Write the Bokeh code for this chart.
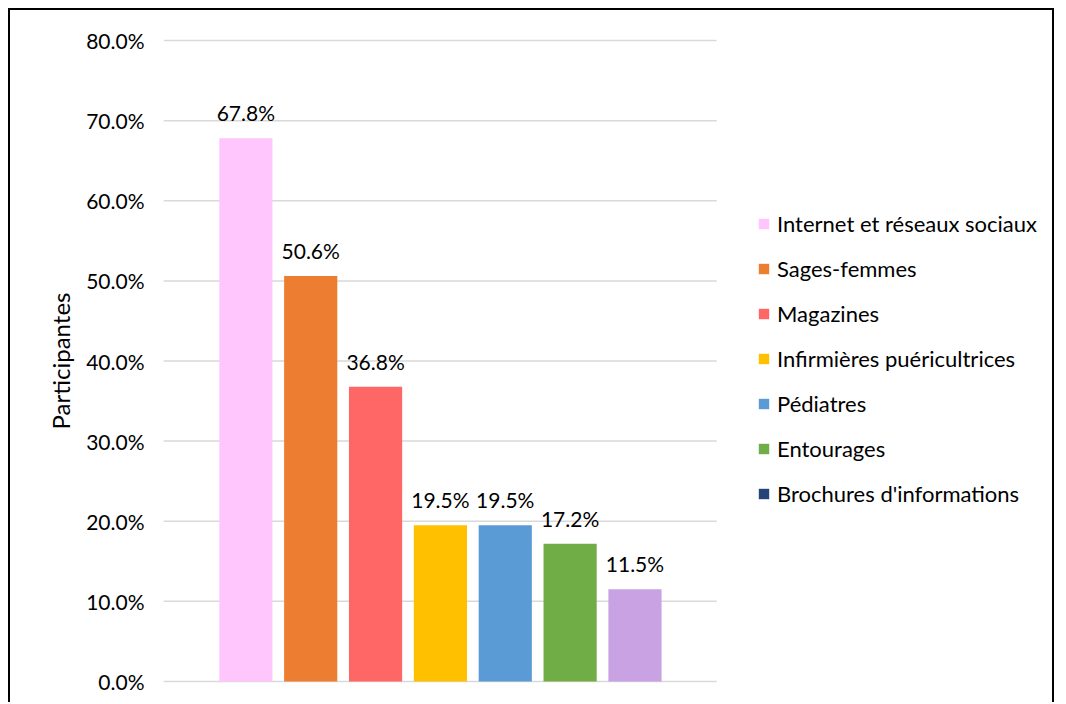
from bokeh.plotting import figure
from bokeh.models import (ColumnDataSource, Legend, LegendItem, FixedTicker,
                          LabelSet, CustomJSTickFormatter)
from bokeh.core.properties import value
from bokeh.embed import file_html
from bokeh.resources import INLINE

categories = ["Internet et réseaux sociaux", "Sages-femmes", "Magazines",
              "Infirmières puéricultrices", "Pédiatres", "Entourages",
              "Brochures d'informations"]
values = [67.8, 50.6, 36.8, 19.5, 19.5, 17.2, 11.5]
bar_colors = ["#FFC5FD", "#ED7D31", "#FF6666", "#FFC000", "#5B9BD5", "#70AD47", "#C8A2E3"]
legend_colors = ["#FFC5FD", "#ED7D31", "#FF6666", "#FFC000", "#5B9BD5", "#70AD47", "#264478"]
y_ticks = [0, 10, 20, 30, 40, 50, 60, 70, 80]

FONT = "Lato"
PLOT_X0, PLOT_X1 = -1.27, 7.26     # extent of the plotting area (gridlines)
X_END = 12.5                        # frame extends right to host the legend

p = figure(width=1046, height=694, output_backend="svg", toolbar_location=None,
           x_range=(PLOT_X0, X_END), y_range=(-0.25, 80.25),
           min_border_left=153, min_border_right=0, min_border_top=28,
           min_border_bottom=21)
p.styles = {"border-style": "solid", "border-color": "black",
            "border-width": "2px 2px 0px 2px",
            "margin-left": "8px", "margin-top": "8px"}
p.outline_line_color = None
p.xaxis.visible = False
p.xgrid.grid_line_color = None
p.ygrid.grid_line_color = None

# horizontal gridlines limited to the plotting area
p.segment(x0=[PLOT_X0] * len(y_ticks), x1=[PLOT_X1] * len(y_ticks),
          y0=y_ticks, y1=y_ticks, line_color="#D9D9D9", line_width=1.5)

yax = p.yaxis[0]
yax.ticker = FixedTicker(ticks=y_ticks)
yax.formatter = CustomJSTickFormatter(code="return tick.toFixed(1) + '%';")
yax.axis_line_color = None
yax.major_tick_line_color = None
yax.minor_tick_line_color = None
yax.major_label_text_font = FONT
yax.major_label_text_font_size = "21px"
yax.major_label_text_color = "#000000"
yax.major_label_standoff = 13
yax.axis_label = "Participantes"
yax.axis_label_text_font = FONT
yax.axis_label_text_font_style = "normal"
yax.axis_label_text_font_size = "24px"
yax.axis_label_text_color = "#000000"
yax.axis_label_standoff = 8

items = []
for i, (cat, v, bc, lc) in enumerate(zip(categories, values, bar_colors, legend_colors)):
    src = ColumnDataSource(dict(x=[i], top=[v], label=[f"{v:.1f}%"]))
    p.vbar(x="x", top="top", width=0.82, bottom=0, source=src,
           fill_color=bc, line_color=None)
    # legend swatch renderer: zero-height bar, only gives the swatch colour
    sw = p.vbar(x=[i], top=[0], bottom=0, width=0.82, fill_color=lc, line_color=None)
    items.append(LegendItem(label=cat, renderers=[sw]))
    lbl = LabelSet(x="x", y="top", text="label", source=src, text_align="center",
                   text_baseline="bottom", y_offset=13, text_font=value(FONT),
                   text_font_size="21px", text_color="#000000")
    p.add_layout(lbl)

legend = Legend(items=items, location=(594, 176), orientation="vertical",
                border_line_color=None, background_fill_alpha=0,
                label_text_font=FONT, label_text_font_size="22px",
                label_text_color="#000000", glyph_width=13, glyph_height=13,
                label_height=25, spacing=18, label_standoff=7, padding=0, margin=0)
p.add_layout(legend, "center")

open("out.html", "w").write(file_html(p, INLINE))
